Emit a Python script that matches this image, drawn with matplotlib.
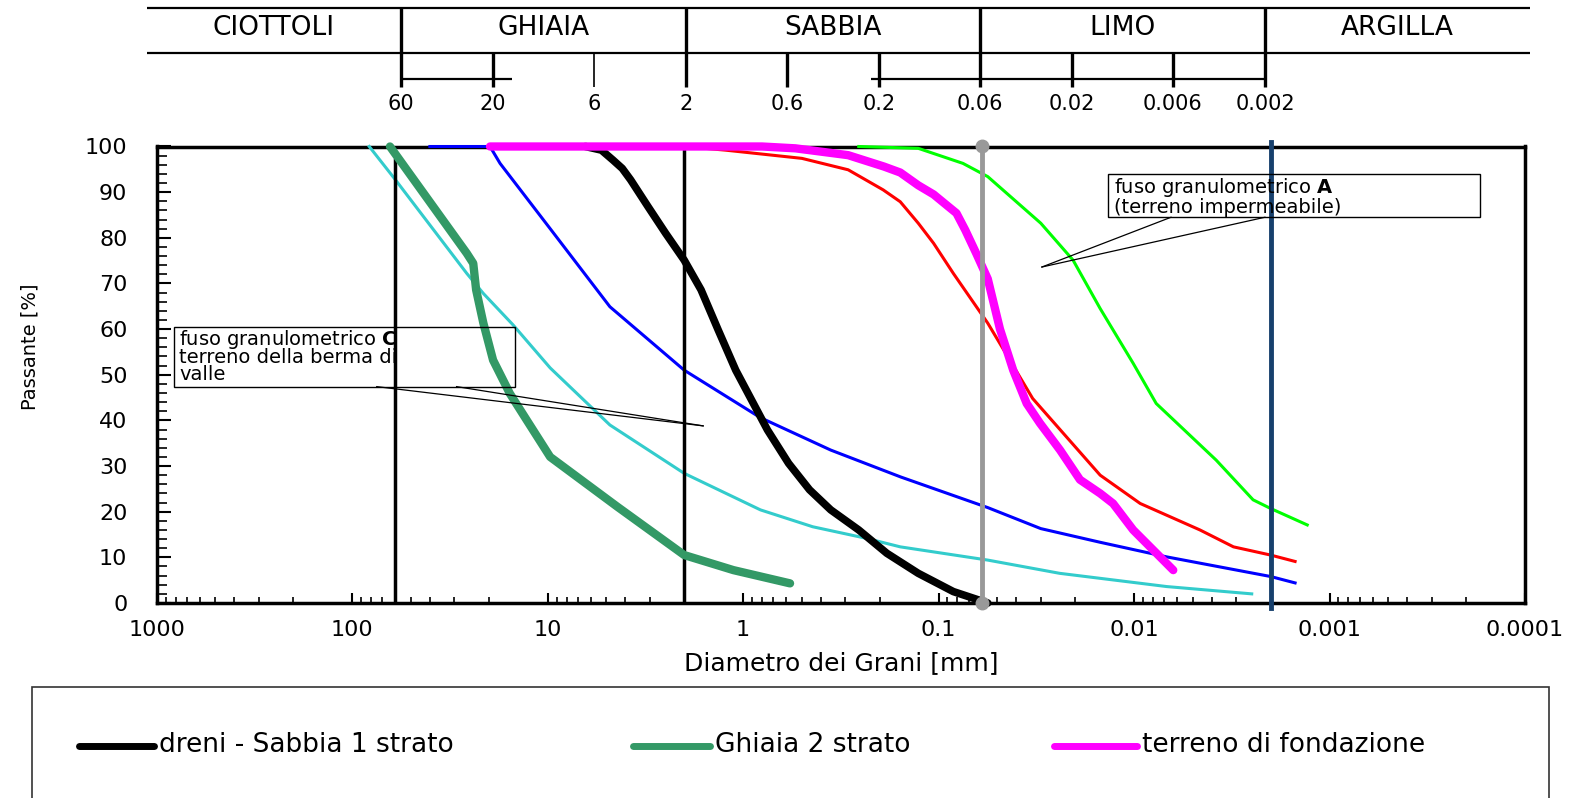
import numpy as np
import matplotlib
matplotlib.use("Agg")
import matplotlib.pyplot as plt
from matplotlib.lines import Line2D
from matplotlib.patches import Rectangle
from matplotlib.ticker import FixedLocator, FuncFormatter, LogLocator, MultipleLocator, NullFormatter

plt.rcParams["font.family"] = ["DejaVu Sans"]

# grading curves: grain diameter [mm] / percent passing
dreni_d = [6.4, 5.3, 4.62, 4.15, 3.76, 3.06, 2.49, 2.0, 1.64, 1.34, 1.09, 0.885, 0.75, 0.585, 0.457,
           0.356, 0.256, 0.184, 0.127, 0.084, 0.056]
dreni_p = [100, 99.2, 97.0, 95.2, 92.7, 86.8, 81.0, 75.1, 68.6, 59.8, 51.0, 43.7, 37.9, 30.6, 24.8,
           20.4, 16.0, 10.9, 6.5, 2.5, 0]

ghiaia_d = [64, 25.9, 24, 23.2, 21.3, 19, 15.6, 12.8, 9.7, 4.4, 2.0, 1.12, 0.575]
ghiaia_p = [100, 76.6, 74.4, 68.6, 61.3, 53.2, 45.9, 40.1, 32, 21.1, 10.5, 7.2, 4.3]

fondazione_d = [19.7, 0.8, 0.54, 0.29, 0.19, 0.157, 0.127, 0.106, 0.09, 0.081, 0.073, 0.064, 0.056,
                0.0485, 0.0415, 0.0354, 0.0303, 0.0239, 0.0189, 0.0149, 0.0128, 0.0101, 0.0063]
fondazione_p = [100, 100, 99.6, 98.1, 95.6, 94.3, 91.5, 89.5, 87, 85.4, 81.7, 76.5, 71,
                60, 51, 43.7, 39.4, 33.5, 27, 24, 21.8, 16, 7.2]

# envelope curves of the reference grading bands
fuso_c_fine_d = [40, 19.7, 17.5, 9.7, 4.8, 2.0, 0.815, 0.356, 0.156, 0.056, 0.030, 0.0149, 0.0068,
                 0.002, 0.0015]
fuso_c_fine_p = [100, 100, 96.3, 82, 64.9, 51, 40.6, 33.5, 27.6, 20.9, 16.3, 13.3, 10.1, 5.8, 4.4]

fuso_c_coarse_d = [81.7, 60, 25.9, 21.3, 15, 9.7, 4.8, 2.0, 0.815, 0.44, 0.236, 0.157, 0.056, 0.024,
                   0.0068, 0.0025]
fuso_c_coarse_p = [100, 92.7, 72.2, 67.8, 60.9, 51.5, 39, 28.4, 20.4, 16.7, 14.2, 12.3, 9.4, 6.5,
                   3.6, 2.0]

fuso_a_coarse_d = [2.0, 1.23, 0.5, 0.29, 0.192, 0.157, 0.127, 0.106, 0.084, 0.056, 0.033, 0.0149,
                   0.0093, 0.0046, 0.0031, 0.002, 0.0015]
fuso_a_coarse_p = [100, 99.2, 97.4, 94.9, 90.5, 87.9, 83.2, 78.8, 72.2, 61.3, 44.8, 28, 21.8, 16,
                   12.3, 10.5, 9.1]

fuso_a_fine_d = [0.256, 0.127, 0.075, 0.056, 0.03, 0.0205, 0.0149, 0.0101, 0.0077, 0.0038, 0.00246,
                 0.002, 0.0013]
fuso_a_fine_p = [100, 99.6, 96.3, 93.4, 83.2, 75.1, 64.5, 52.5, 43.7, 31.3, 22.6, 20.7, 17.1]

legend_names = ["dreni - Sabbia 1 strato", "Ghiaia 2 strato", "terreno di fondazione"]

# classification scale (AGI)
class_names = ["CIOTTOLI", "GHIAIA", "SABBIA", "LIMO", "ARGILLA"]
class_bounds = [60, 2, 0.06, 0.002]
scale_values = [60, 20, 6, 2, 0.6, 0.2, 0.06, 0.02, 0.006, 0.002]
scale_labels = ["60", "20", "6", "2", "0.6", "0.2", "0.06", "0.02", "0.006", "0.002"]
scale_rule = [(60, 16), (0.22, 0.002)]

x_ticks = [1000, 100, 10, 1, 0.1, 0.01, 0.001, 0.0001]

# callouts: box corners and leader lines (diameter, passing)
box_a = [(0.01361, 84.5), (1.706e-4, 93.9)]
leaders_a = [((0.0296, 73.6), (0.00647, 84.5)), ((0.0296, 73.6), (0.00214, 84.5))]
box_c = [(817, 47.4), (14.7, 60.5)]
leaders_c = [((74.8, 47.4), (1.6, 38.8)), ((29.2, 47.4), (1.6, 38.8))]

W, H = 1584, 798
fig = plt.figure(figsize=(W / 100, H / 100), dpi=100)

ax = fig.add_axes([156.6 / W, 1 - 603 / H, (1525 - 156.6) / W, (603 - 146.5) / H])
ax.set_xscale("log")
ax.set_xlim(1000, 0.0001)
ax.set_ylim(0, 100)

thin = dict(lw=2.2, clip_on=False, solid_joinstyle="round")
thick = dict(solid_capstyle="round", solid_joinstyle="round", clip_on=False)
# thin envelope curves
ax.plot(fuso_c_coarse_d, fuso_c_coarse_p, color="#33CCCC", zorder=3, **thin)
ax.plot(fuso_c_fine_d, fuso_c_fine_p, color="#0000FF", zorder=3, **thin)
ax.plot(fuso_a_coarse_d, fuso_a_coarse_p, color="#FF0000", zorder=3, **thin)
# thick measured curves
ax.plot(ghiaia_d, ghiaia_p, color="#339966", lw=6, zorder=3.5, **thick)
ax.plot(dreni_d, dreni_p, color="black", lw=5.5, zorder=3.5, **thick)
ax.plot(fondazione_d, fondazione_p, color="#FF00FF", lw=6, zorder=3.5, **thick)
ax.plot(fuso_a_fine_d, fuso_a_fine_p, color="#00FF00", zorder=4, **thin)

# class boundaries
ax.axvline(60, ymax=0.97, color="black", lw=2.5, zorder=3.2)
ax.axvline(2, color="black", lw=2.5, zorder=3.2)
ax.plot([0.06, 0.06], [0, 100], color="#999999", lw=3.5, marker="o", ms=9,
        clip_on=False, zorder=5)
ax.plot([0.002, 0.002], [-1, 101], color="#17406D", lw=3.5, clip_on=False, zorder=5)

# callout boxes
for (xa, ya), (xb, yb) in (box_a, box_c):
    ax.add_patch(Rectangle((xa, ya), xb - xa, yb - ya, fill=False, ec="black", lw=1.0, zorder=6))
for p0, p1 in leaders_a + leaders_c:
    ax.plot([p0[0], p1[0]], [p0[1], p1[1]], color="black", lw=0.9, zorder=6)
ax.text(0.0127, 93.5, "fuso granulometrico $\\mathbf{A}$\n(terreno impermeabile)",
        fontsize=14, va="top", ha="left", linespacing=0.9, zorder=7)
ax.text(768, 60.3, "fuso granulometrico $\\mathbf{C}$\nterreno della berma di\nvalle",
        fontsize=14, va="top", ha="left", linespacing=0.85, zorder=7)

ax.xaxis.set_major_locator(FixedLocator(x_ticks))
ax.xaxis.set_major_formatter(FuncFormatter(lambda v, _: f"{v:g}"))
ax.xaxis.set_minor_locator(LogLocator(base=10, subs=np.arange(2, 10), numticks=30))
ax.xaxis.set_minor_formatter(NullFormatter())
ax.yaxis.set_major_locator(MultipleLocator(10))
ax.yaxis.set_minor_locator(MultipleLocator(2))
ax.tick_params(which="both", direction="in", top=False, right=False)
ax.tick_params(axis="y", which="major", length=10, width=1.5, pad=21, labelsize=16)
ax.tick_params(axis="y", which="minor", length=7, width=1.2)
ax.tick_params(axis="x", which="major", length=7, width=1.5, pad=12, labelsize=16)
ax.tick_params(axis="x", which="minor", length=4.5, width=1.2)
for s in ax.spines.values():
    s.set_linewidth(2.5)

ax.set_xlabel("Diametro dei Grani [mm]", fontsize=18)
ax.xaxis.set_label_coords(0.5, -0.131)
ax.xaxis.label.set_va("center")
ax.set_ylabel("Passante [%]", fontsize=14)
ax.yaxis.set_label_coords(-0.0925, 0.562)
ax.yaxis.label.set_va("center")

# classification band above the chart
band = fig.add_axes([146.5 / W, 1 - 110 / H, (1530 - 146.5) / W, 110 / H])
band.set_xscale("log")
band.set_xlim(1250, 8.47e-5)
band.set_ylim(110, 0)
band.axis("off")
bx0, bx1 = band.get_xlim()
band.hlines([8, 52.5], bx1, bx0, color="black", lw=1.6)
for a, b in scale_rule:
    band.hlines(79, b, a, color="black", lw=1.6)
band.vlines(class_bounds, 8, 87, color="black", lw=2.4)
for v in scale_values:
    if v not in class_bounds:
        band.vlines(v, 52.5, 87, color="black", lw=1.2 if v == 6 else 2.4)
for v, lab in zip(scale_values, scale_labels):
    band.text(v, 104, lab, ha="center", va="center", fontsize=15)
edges = [bx0] + class_bounds + [bx1]
for name, a, b in zip(class_names, edges[:-1], edges[1:]):
    band.text(np.sqrt(a * b), 28, name, ha="center", va="center", fontsize=19)

# legend panel
fig.add_artist(Rectangle((32.3 / W, -0.05), (1548.6 - 32.3) / W, 0.05 + 1 - 687 / H,
                         transform=fig.transFigure, fill=False, ec="#333333", lw=1.2))
legend_y = 1 - 745.5 / H
legend_spans = [(79, 154), (633, 710), (1054, 1137)]
legend_colors = ["black", "#339966", "#FF00FF"]
for (xa, xb), name, c in zip(legend_spans, legend_names, legend_colors):
    fig.add_artist(Line2D([xa / W, xb / W], [legend_y, legend_y], transform=fig.transFigure,
                          color=c, lw=5, solid_capstyle="round"))
    fig.text((xb + 5) / W, legend_y, name, ha="left", va="center", fontsize=19)

fig.savefig("out.png", dpi=100)
